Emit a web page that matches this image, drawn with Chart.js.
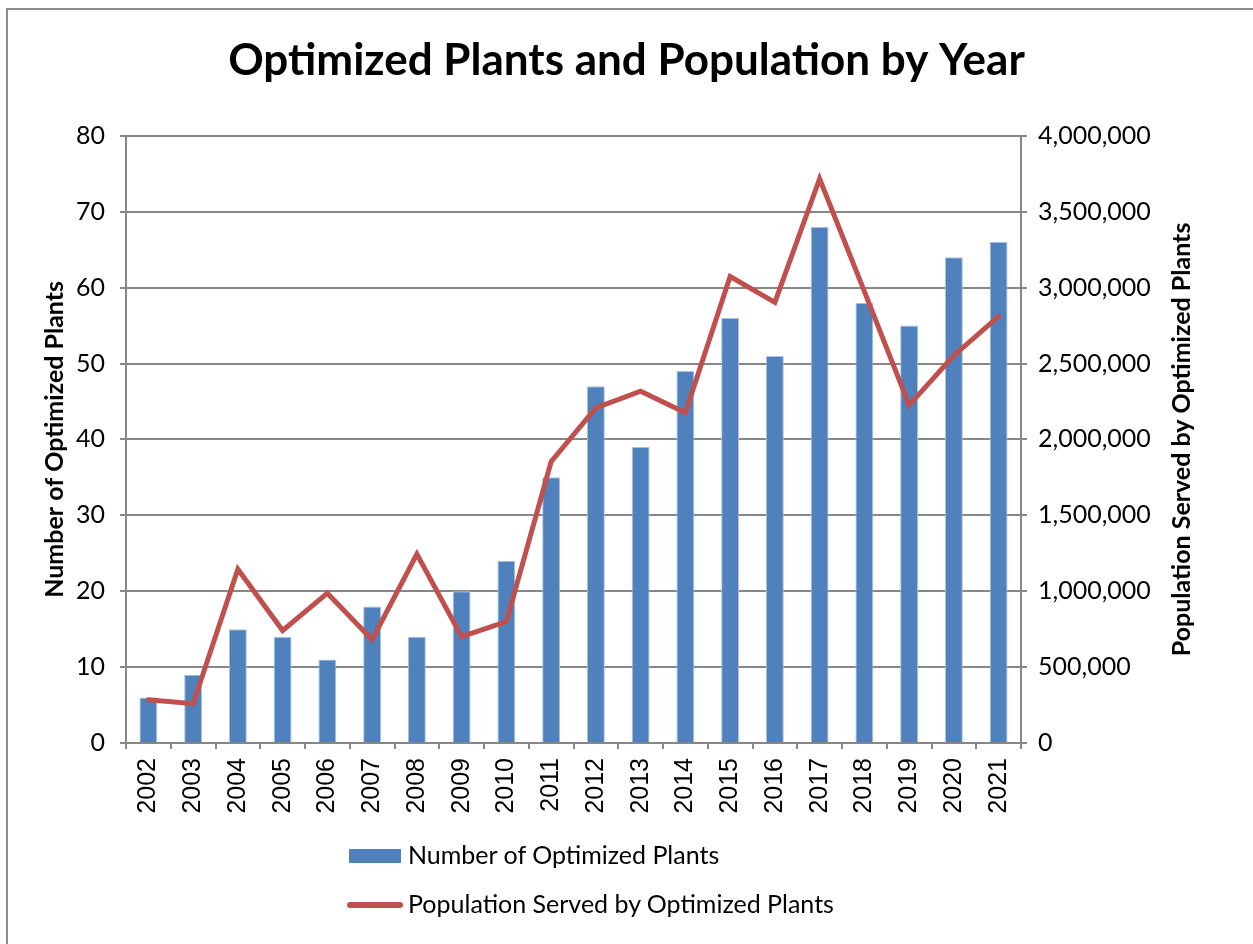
<!DOCTYPE html>
<html>
<head>
<meta charset="utf-8">
<script src="https://cdn.jsdelivr.net/npm/chart.js@4.4.1/dist/chart.umd.min.js"></script>
<style>
  body { margin: 0; background: #fff; }
  #wrap { position: relative; width: 1253px; height: 944px; overflow: hidden; }
  #frame { position: absolute; left: 6px; top: 8px; width: 1400px; height: 1000px;
           border-left: 2px solid #8c8c8c; border-top: 2px solid #8c8c8c; }
  #legend { position: absolute; left: 347px; top: 838px; font-family: Lato, sans-serif;
            font-size: 25px; color: #000; }
  .row { position: relative; height: 49px; }
  .sw { position: absolute; }
  .txt { position: absolute; left: 61px; top: 1px; white-space: nowrap; }
</style>
</head>
<body>
<div id="wrap">
  <canvas id="chart" width="1253" height="944"></canvas>
  <div id="frame"></div>
  <div id="legend"></div>
</div>
<script>
// Data
const years = ['2002', '2003', '2004', '2005', '2006', '2007', '2008', '2009', '2010', '2011',
               '2012', '2013', '2014', '2015', '2016', '2017', '2018', '2019', '2020', '2021'];
const plants = [6, 9, 15, 14, 11, 18, 14, 20, 24, 35, 47, 39, 49, 56, 51, 68, 58, 55, 64, 66];
const population = [285000, 259000, 1145000, 741000, 987000, 680000, 1245000, 701000, 800000, 1853000,
                    2208000, 2318000, 2175000, 3073000, 2903000, 3717000, 2975000, 2226000, 2553000, 2811000];

const gridGray = '#878787';
const barBlue = '#4f81bd';
const lineRed = '#c0504d';
const rightTitle = 'Population Served by Optimized Plants';

// right axis title reads bottom-to-top like the left one
const rightTitlePlugin = {
    id: 'rightTitle',
    afterDraw(chart) {
        const c = chart.ctx;
        const area = chart.chartArea;
        c.save();
        c.translate(1182, (area.top + area.bottom) / 2);
        c.rotate(-Math.PI / 2);
        c.font = 'bold 25px Lato';
        c.fillStyle = '#000';
        c.textAlign = 'center';
        c.textBaseline = 'middle';
        c.fillText(rightTitle, 0, 0);
        c.restore();
    }
};

const ctx = document.getElementById('chart').getContext('2d');
const chart = new Chart(ctx, {
    type: 'bar',
    data: {
        labels: years,
        datasets: [{
            type: 'bar',
            label: 'Number of Optimized Plants',
            data: plants,
            yAxisID: 'y',
            backgroundColor: barBlue,
            borderColor: '#a9c1df',
            borderWidth: 1,
            categoryPercentage: 1,
            barPercentage: 0.4,
            order: 2
        }, {
            type: 'line',
            label: rightTitle,
            data: population,
            yAxisID: 'y1',
            borderColor: lineRed,
            borderWidth: 5,
            pointRadius: 0,
            tension: 0,
            borderCapStyle: 'round',
            fill: false,
            order: 1
        }]
    },
    options: {
        responsive: false,
        animation: false,
        devicePixelRatio: 1,
        layout: { padding: 0 },
        plugins: {
            legend: { display: false },
            tooltip: { enabled: false },
            title: {
                display: true,
                text: 'Optimized Plants and Population by Year',
                color: '#000',
                font: { family: 'Lato', size: 44, weight: 'bold' },
                padding: { top: 34, bottom: 49 }
            }
        },
        scales: {
            x: {
                offset: true,
                grid: { drawOnChartArea: false, drawTicks: true, tickLength: 6, color: gridGray, lineWidth: 2, offset: true },
                border: { color: gridGray, width: 2 },
                ticks: {
                    color: '#000',
                    font: { family: 'Liberation Sans', size: 25 },
                    minRotation: 90,
                    maxRotation: 90,
                    padding: 9,
                    autoSkip: false
                },
                afterFit: (scale) => { scale.height = 201; }
            },
            y: {
                position: 'left',
                min: 0,
                max: 80,
                ticks: {
                    stepSize: 10,
                    color: '#000',
                    font: { family: 'Lato', size: 25 },
                    padding: 15
                },
                grid: { color: gridGray, lineWidth: 2, tickLength: 6 },
                border: { color: gridGray, width: 2 },
                title: {
                    display: true,
                    text: 'Number of Optimized Plants',
                    color: '#000',
                    font: { family: 'Lato', size: 25, weight: 'bold' },
                    padding: { top: 40, bottom: 0 }
                },
                afterFit: (scale) => { scale.width = 126; }
            },
            y1: {
                position: 'right',
                min: 0,
                max: 4000000,
                ticks: {
                    stepSize: 500000,
                    color: '#000',
                    font: { family: 'Lato', size: 25 },
                    padding: 11,
                    callback: (v) => v.toLocaleString('en-US')
                },
                grid: { drawOnChartArea: false, color: gridGray, lineWidth: 2, tickLength: 6 },
                border: { color: gridGray, width: 2 },
                afterFit: (scale) => { scale.width = 232; }
            }
        }
    },
    plugins: [rightTitlePlugin]
});

// HTML legend built from the chart's datasets
const legendDiv = document.getElementById('legend');
chart.data.datasets.forEach(ds => {
    const row = document.createElement('div');
    row.className = 'row';
    const sw = document.createElement('div');
    sw.className = 'sw';
    if (ds.type === 'bar') {
        sw.style.cssText = 'left:2px;top:11px;width:52px;height:14px;background:' + ds.backgroundColor;
    } else {
        sw.style.cssText = 'left:0;top:15px;width:56px;height:6px;border-radius:3px;background:' + ds.borderColor;
    }
    const txt = document.createElement('div');
    txt.className = 'txt';
    txt.textContent = ds.label;
    row.appendChild(sw);
    row.appendChild(txt);
    legendDiv.appendChild(row);
});
</script>
</body>
</html>
